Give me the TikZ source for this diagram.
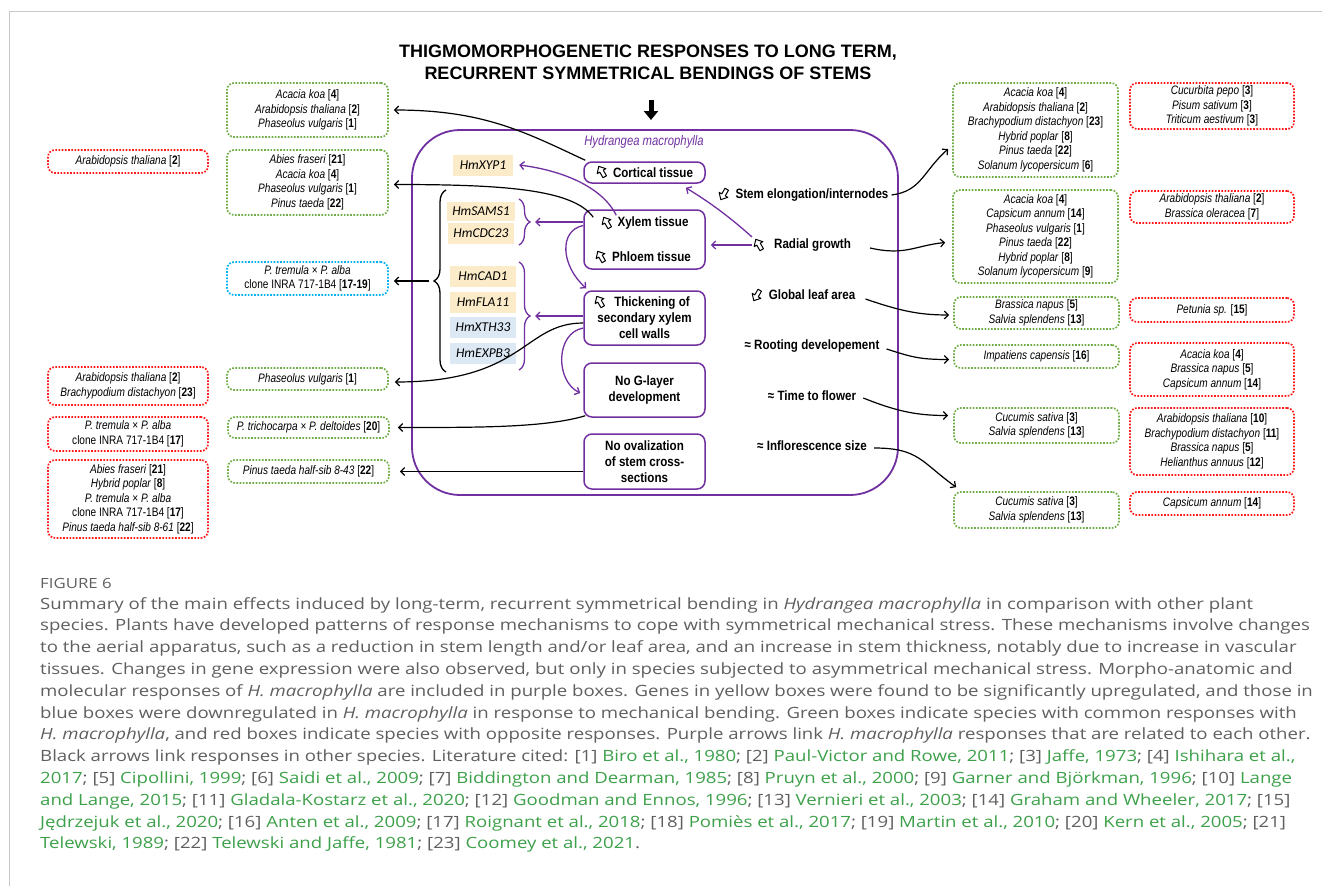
\documentclass[tikz,border=0pt]{standalone}
\usepackage{fontspec}
\setmainfont{Liberation Sans}
\newfontfamily\genefont{Carlito}
\newfontfamily\capfont[FakeStretch=1.2]{Open Sans}
\newfontfamily\spfont[FakeStretch=0.82]{Liberation Sans}
\newfontfamily\lbfont[FakeStretch=0.86]{Liberation Sans}
\usetikzlibrary{arrows.meta,decorations.pathreplacing,calc}
\definecolor{pur}{HTML}{7030A0}
\definecolor{grn}{HTML}{70AD47}
\definecolor{rd}{HTML}{FF1A1A}
\definecolor{blu}{HTML}{00B0F0}
\definecolor{yel}{HTML}{FCEBC8}
\definecolor{lbl}{HTML}{DDE8F5}
\definecolor{capgray}{HTML}{5F5F5F}
\definecolor{capgreen}{HTML}{3DA04A}
\newcommand{\rf}[1]{\textup{[\textbf{#1}]}}
\newcommand{\G}[1]{\textcolor{capgreen}{#1}}
\tikzset{
  sp/.style={align=center, inner sep=0pt, font=\spfont\itshape\fontsize{12.3}{14.5}\selectfont,
    line width=1.7pt, dash pattern=on 1.7pt off 1.5pt, rounded corners=7pt},
  gb/.style={sp, draw=grn},
  rb/.style={sp, draw=rd},
  bb/.style={sp, draw=blu},
  lc1/.style={minimum width=160},
  lc2/.style={minimum width=161},
  rc1/.style={minimum width=165},
  rc2/.style={minimum width=164},
  ib/.style={draw=pur, line width=1.5pt, rounded corners=8pt, minimum width=121,
    align=center, font=\lbfont\bfseries\fontsize{13.5}{16}\selectfont, inner sep=0pt},
  gene/.style={font=\genefont\itshape\fontsize{13.5}{15}\selectfont, inner xsep=5pt,
    inner ysep=0pt, minimum height=21, minimum width=66},
  ylw/.style={gene, fill=yel},
  blw/.style={gene, fill=lbl},
  rl/.style={font=\lbfont\bfseries\fontsize{13.5}{14}\selectfont, inner sep=1pt},
  blk/.style={draw=black, line width=1.2pt, -{Straight Barb[length=4pt,width=8pt]}},
  parr/.style={draw=pur, line width=1.3pt, -{Straight Barb[length=4pt,width=8pt]}},
  capline/.style={anchor=base west, inner sep=0pt, text=capgray,
    font=\capfont\fontsize{15.5}{18}\selectfont},
  icon/.pic={\draw[line width=1pt, line join=round, fill=white]
    (0,-6.5) -- (5,-1) -- (2,-1) -- (2,5.5) -- (-2,5.5) -- (-2,-1) -- (-5,-1) -- cycle;},
}
\begin{document}
\begin{tikzpicture}[x=1pt,y=-1pt]
\useasboundingbox (0,0) rectangle (1322,886);
% frame
\draw[black!22, line width=1pt] (9,886) -- (9,11) -- (1322,11);

% title
\node[font=\bfseries\fontsize{18}{22}\selectfont, align=center] (title) at (648,62)
  {THIGMOMORPHOGENETIC RESPONSES TO LONG TERM,\\RECURRENT SYMMETRICAL BENDINGS OF STEMS};
\coordinate (ds) at (651,100);
\coordinate (de) at (651,120);
\draw[line width=5pt, -{Triangle[length=9pt,width=14pt]}] (ds) -- (de);

% main box
\node[draw=pur, line width=1.8pt, rounded corners=48pt, minimum width=486, minimum height=365] (hm) at (655,312.5) {};
\node[text=pur, font=\spfont\itshape\fontsize{13.8}{14}\selectfont] (hml) at (644,142) {Hydrangea macrophylla};

% inner purple boxes
\node[ib, minimum height=21] (cort) at (644.5,172.5) {\hspace{17pt}Cortical tissue};
\node[ib, minimum height=59] (xyl) at (644.5,239.5) {};
\node[rl] (xylt) at (653,223) {Xylem tissue};
\node[rl] (phlt) at (651.5,257) {Phloem tissue};
\node[ib, minimum height=54] (thick) at (644.5,318) {\hspace{15pt}Thickening of\\secondary xylem\\cell walls};
\node[ib, minimum height=54] (glayer) at (644.5,390) {No G-layer\\development};
\node[ib, minimum height=55] (oval) at (644.5,461.5) {No ovalization\\of stem cross-\\sections};

% genes
\node[ylw, minimum width=60] (xyp) at (483,165) {HmXYP1};
\node[ylw, minimum height=19] (sams) at (481,211) {HmSAMS1};
\node[ylw] (cdc) at (481,233.5) {HmCDC23};
\node[ylw] (cad) at (483,276) {HmCAD1};
\node[ylw] (fla) at (483,302) {HmFLA11};
\node[blw] (xth) at (483,327.5) {HmXTH33};
\node[blw] (expb) at (483,353.5) {HmEXPB3};

% braces
\draw[pur, line width=1.3pt, decorate, decoration={brace, amplitude=11pt}] (519,199) -- (519,245);
\coordinate (b1t) at (535,222);
\draw[pur, line width=1.3pt, decorate, decoration={brace, amplitude=11pt}] (519,262) -- (519,370);
\coordinate (b2t) at (535,316);
\draw[black, line width=1.3pt, decorate, decoration={brace, amplitude=12pt}] (446,372) -- (446,190);
\coordinate (b3t) at (429,281);

% right labels
\node[rl] (stem) at (812,195) {Stem elongation/internodes};
\node[rl] (radial) at (812.5,245) {Radial growth};
\node[rl] (leaf) at (812,295) {Global leaf area};
\node[rl] (root) at (812,346) {≈ Rooting developement};
\node[rl] (flower) at (812,396) {≈ Time to flower};
\node[rl] (infl) at (812,446) {≈ Inflorescence size};
\coordinate (ri) at (752,245);

% icons (increase / decrease)
\pic[rotate=30] at (602,172) {icon};
\pic[rotate=30] at (607,223) {icon};
\pic[rotate=30] at (601,257) {icon};
\pic[rotate=30] at (600,302) {icon};
\pic[rotate=30] at (759,245) {icon};
\pic[rotate=150] at (724,194) {icon};
\pic[rotate=150] at (757,295) {icon};

% left species boxes
\node[gb, lc2, minimum height=54] (A) at (307.5,110) {Acacia koa \rf{4}\\Arabidopsis thaliana \rf{2}\\Phaseolus vulgaris \rf{1}};
\node[gb, lc2, minimum height=65] (B) at (307.5,182.5) {Abies fraseri \rf{21}\\Acacia koa \rf{4}\\Phaseolus vulgaris \rf{1}\\Pinus taeda \rf{22}};
\node[rb, lc1, minimum height=23] (ra) at (128,161.5) {Arabidopsis thaliana \rf{2}};
\node[bb, lc2, minimum height=33] (blue) at (307.5,278.5) {P. tremula \textup{×} P. alba\\\textup{clone INRA 717-1B4} \rf{17-19}};
\node[gb, lc2, minimum height=22] (phas) at (307.5,379) {Phaseolus vulgaris \rf{1}};
\node[rb, lc1, minimum height=38] (rb2) at (128,386) {Arabidopsis thaliana \rf{2}\\Brachypodium distachyon \rf{23}};
\node[rb, lc1, minimum height=34] (rb3) at (128,434) {P. tremula \textup{×} P. alba\\\textup{clone INRA 717-1B4} \rf{17}};
\node[gb, lc2, minimum height=21] (trich) at (308.5,427.5) {P. trichocarpa \textup{×} P. deltoides \rf{20}};
\node[rb, lc1, minimum height=78] (rb4) at (128,499) {Abies fraseri \rf{21}\\Hybrid poplar \rf{8}\\P. tremula \textup{×} P. alba\\\textup{clone INRA 717-1B4} \rf{17}\\Pinus taeda half-sib 8-61 \rf{22}};
\node[gb, lc2, minimum height=23] (hs) at (308.5,471.5) {Pinus taeda half-sib 8-43 \rf{22}};

% right species boxes
\node[gb, rc1, minimum height=94] (G1) at (1035.5,130) {Acacia koa \rf{4}\\Arabidopsis thaliana \rf{2}\\Brachypodium distachyon \rf{23}\\Hybrid poplar \rf{8}\\Pinus taeda \rf{22}\\Solanum lycopersicum \rf{6}};
\node[gb, rc1, minimum height=93] (G2) at (1035.5,236.5) {Acacia koa \rf{4}\\Capsicum annum \rf{14}\\Phaseolus vulgaris \rf{1}\\Pinus taeda \rf{22}\\Hybrid poplar \rf{8}\\Solanum lycopersicum \rf{9}};
\node[gb, rc1, minimum height=32] (G3) at (1036.5,313) {Brassica napus \rf{5}\\Salvia splendens \rf{13}};
\node[gb, rc1, minimum height=23] (G4) at (1036.5,356.5) {Impatiens capensis \rf{16}};
\node[gb, rc1, minimum height=35] (G5) at (1036.5,425.5) {Cucumis sativa \rf{3}\\Salvia splendens \rf{13}};
\node[gb, rc1, minimum height=36] (G6) at (1036.5,510) {Cucumis sativa \rf{3}\\Salvia splendens \rf{13}};

\node[rb, rc2, minimum height=46] (R1) at (1212,106) {Cucurbita pepo \rf{3}\\Pisum sativum \rf{3}\\Triticum aestivum \rf{3}};
\node[rb, rc2, minimum height=32] (R2) at (1212,207) {Arabidopsis thaliana \rf{2}\\Brassica oleracea \rf{7}};
\node[rb, rc2, minimum height=24] (R3) at (1212,310) {Petunia sp. \rf{15}};
\node[rb, rc2, minimum height=53] (R4) at (1212,369.5) {Acacia koa \rf{4}\\Brassica napus \rf{5}\\Capsicum annum \rf{14}};
\node[rb, rc2, minimum height=67] (R5) at (1212,441.5) {Arabidopsis thaliana \rf{10}\\Brachypodium distachyon \rf{11}\\Brassica napus \rf{5}\\Helianthus annuus \rf{12}};
\node[rb, rc2, minimum height=23] (R6) at (1212,503.5) {Capsicum annum \rf{14}};

% black arrows left
\draw[blk] ($(cort.north west)+(2,-1)$) .. controls +(-60,-28) and +(90,0) .. ($(A.east)+(5,0)$);
\draw[blk] ($(xyl.north west)+(10,8)$) .. controls +(-20,-28) and +(110,0) .. ($(B.east)+(5,2)$);
\draw[blk] (b3t) -- ($(blue.east |- b3t)+(5,0)$);
\draw[blk] ($(thick.west)+(0,5)$) .. controls +(-60,0) and +(130,0) .. ($(phas.east)+(6,3)$);
\draw[blk] ($(glayer.south west)+(2,-2)$) .. controls +(-40,12) and +(80,0) .. ($(trich.east)+(8,0)$);
\draw[blk] (oval.west |- hs.east) -- ($(hs.east)+(10,0)$);

% purple arrows
\draw[parr] ($(xyl.north west)+(33,6)$) .. controls +(-15,-30) and +(40,5) .. ($(xyp.east)+(6,0)$);
\draw[parr] (xyl.west |- b1t) -- (b1t);
\draw[parr] ($(ri)+(0,-8)$) .. controls +(-20,-18) and +(25,15) .. ($(cort.south east)+(-20,4)$);
\draw[parr] (ri) -- ($(xyl.east |- ri)+(5,0)$);
\draw[parr] ($(xyl.west)+(0,-14)$) .. controls +(-25,5) and +(-25,-22) .. ($(thick.north west)+(3,-2)$);
\draw[parr] (thick.west |- b2t) -- (b2t);
\draw[parr] ($(thick.west)+(0,10)$) .. controls +(-28,5) and +(-25,-12) .. ($(glayer.west)+(-3,3)$);

% black arrows right
\draw[blk] ($(stem.east)+(2,0)$) .. controls +(30,-4) and +(-25,22) .. ($(G1.west)+(-4,19)$);
\draw[blk] ($(radial.east)+(18,3)$) .. controls +(35,8) and +(-30,3) .. ($(G2.west)+(-7,6)$);
\draw[blk] ($(leaf.east)+(9,4)$) .. controls +(35,12) and +(-30,0) .. ($(G3.west)+(-4,2)$);
\draw[blk] ($(root.east)+(6,3)$) .. controls +(25,8) and +(-30,0) .. ($(G4.west)+(-4,3)$);
\draw[blk] ($(flower.east)+(6,2)$) .. controls +(35,14) and +(-30,0) .. ($(G5.west)+(-5,-10)$);
\draw[blk] ($(infl.east)+(6,2)$) .. controls +(45,0) and +(-35,-25) .. ($(G6.north west)+(3,-4)$);

% caption
\node[capline, font=\capfont\fontsize{14}{16}\selectfont] (fig) at (40,588) {FIGURE 6};
\node[capline] (c1) at (40,609) {Summary of the main effects induced by long-term, recurrent symmetrical bending in \textit{Hydrangea macrophylla} in comparison with other plant};
\node[capline] (c2) at (40,630.8) {species. Plants have developed patterns of response mechanisms to cope with symmetrical mechanical stress. These mechanisms involve changes};
\node[capline] (c3) at (40,652.6) {to the aerial apparatus, such as a reduction in stem length and/or leaf area, and an increase in stem thickness, notably due to increase in vascular};
\node[capline] (c4) at (40,674.4) {tissues. Changes in gene expression were also observed, but only in species subjected to asymmetrical mechanical stress. Morpho-anatomic and};
\node[capline] (c5) at (40,696.2) {molecular responses of \textit{H. macrophylla} are included in purple boxes. Genes in yellow boxes were found to be significantly upregulated, and those in};
\node[capline] (c6) at (40,718) {blue boxes were downregulated in \textit{H. macrophylla} in response to mechanical bending. Green boxes indicate species with common responses with};
\node[capline] (c7) at (40,739.8) {\textit{H. macrophylla}, and red boxes indicate species with opposite responses. Purple arrows link \textit{H. macrophylla} responses that are related to each other.};
\node[capline] (c8) at (40,761.6) {Black arrows link responses in other species. Literature cited: [1] \G{Biro et al., 1980}; [2] \G{Paul-Victor and Rowe, 2011}; [3] \G{Jaffe, 1973}; [4] \G{Ishihara et al.,}};
\node[capline] (c9) at (40,783.4) {\G{2017}; [5] \G{Cipollini, 1999}; [6] \G{Saidi et al., 2009}; [7] \G{Biddington and Dearman, 1985}; [8] \G{Pruyn et al., 2000}; [9] \G{Garner and Björkman, 1996}; [10] \G{Lange}};
\node[capline] (c10) at (40,805.2) {\G{and Lange, 2015}; [11] \G{Gladala-Kostarz et al., 2020}; [12] \G{Goodman and Ennos, 1996}; [13] \G{Vernieri et al., 2003}; [14] \G{Graham and Wheeler, 2017}; [15]};
\node[capline] (c11) at (40,827) {\G{Jędrzejuk et al., 2020}; [16] \G{Anten et al., 2009}; [17] \G{Roignant et al., 2018}; [18] \G{Pomiès et al., 2017}; [19] \G{Martin et al., 2010}; [20] \G{Kern et al., 2005}; [21]};
\node[capline] (c12) at (40,848.8) {\G{Telewski, 1989}; [22] \G{Telewski and Jaffe, 1981}; [23] \G{Coomey et al., 2021}.};
\end{tikzpicture}
\end{document}
